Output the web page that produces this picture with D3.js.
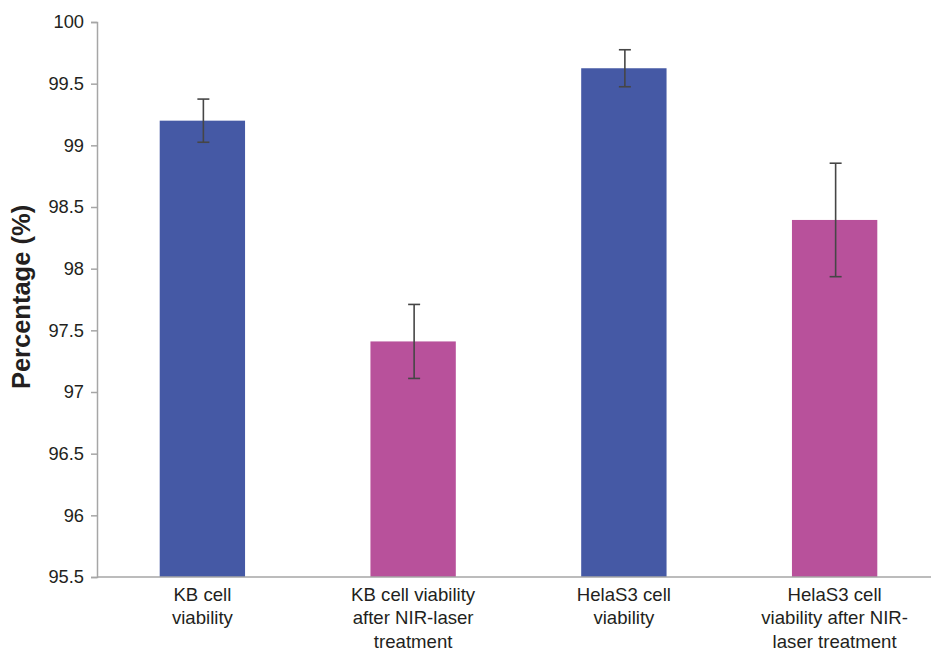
<!DOCTYPE html>
<html>
<head>
<meta charset="utf-8">
<script src="https://cdn.jsdelivr.net/npm/d3@7"></script>
<style>
  html, body { margin: 0; padding: 0; background: #fff; }
  svg { display: block; }
  text { font-family: "Liberation Sans", Arial, sans-serif; fill: #231f20; }
</style>
</head>
<body>
<svg id="chart" width="931" height="650"></svg>
<script>
// Cell viability values with their error (± half-range)
const categories = [
  ["KB cell", "viability"],
  ["KB cell viability", "after NIR-laser", "treatment"],
  ["HelaS3 cell", "viability"],
  ["HelaS3 cell", "viability after NIR-", "laser treatment"]
];
const values = [99.2, 97.41, 99.625, 98.395];
const errors = [0.175, 0.30, 0.15, 0.46];
const barColors = ["#4559a5", "#b8519b", "#4559a5", "#b8519b"];
const yTicks = [95.5, 96, 96.5, 97, 97.5, 98, 98.5, 99, 99.5, 100];
const yLabel = "Percentage (%)";

const svg = d3.select("#chart");
const plotLeft = 97, plotRight = 940, plotTop = 22, plotBottom = 577;

const x = d3.scaleBand().domain(d3.range(categories.length)).range([plotLeft, plotRight]).padding(0);
const y = d3.scaleLinear().domain([95.5, 100]).range([plotBottom, plotTop]);
const barW = x.bandwidth() * 0.405;

// Bars
svg.append("g").selectAll("rect")
  .data(values)
  .join("rect")
  .attr("x", (d, i) => x(i) + x.bandwidth() / 2 - barW / 2)
  .attr("y", d => y(d))
  .attr("width", barW)
  .attr("height", d => y(95.5) - y(d))
  .attr("fill", (d, i) => barColors[i]);

// Error bars
const eg = svg.append("g").attr("stroke", "#464646").attr("stroke-width", 1.6);
values.forEach((v, i) => {
  const cx = x(i) + x.bandwidth() / 2 + 1;
  const y1 = y(v + errors[i]), y2 = y(v - errors[i]);
  eg.append("line").attr("x1", cx).attr("x2", cx).attr("y1", y1).attr("y2", y2);
  eg.append("line").attr("x1", cx - 6).attr("x2", cx + 6).attr("y1", y1).attr("y2", y1);
  eg.append("line").attr("x1", cx - 6).attr("x2", cx + 6).attr("y1", y2).attr("y2", y2);
});

// Y axis
const yAxis = svg.append("g")
  .attr("transform", `translate(${plotLeft},0)`)
  .call(d3.axisLeft(y).tickValues(yTicks).tickSize(6).tickPadding(7).tickFormat(d3.format("")));
yAxis.select(".domain").attr("stroke", "#a6a6a6").attr("stroke-width", 1.5);
yAxis.selectAll(".tick line").attr("stroke", "#a6a6a6").attr("stroke-width", 1.5);
yAxis.selectAll(".tick text")
  .style("font-family", "'Liberation Sans', Arial, sans-serif")
  .style("font-size", "18.3px").attr("fill", "#231f20");

// X axis baseline
svg.append("line")
  .attr("x1", plotLeft).attr("x2", 931)
  .attr("y1", plotBottom).attr("y2", plotBottom)
  .attr("stroke", "#a6a6a6").attr("stroke-width", 1.5);

// Category labels
categories.forEach((lines, i) => {
  const t = svg.append("text")
    .attr("text-anchor", "middle")
    .attr("font-size", "18.6px");
  lines.forEach((ln, j) => {
    t.append("tspan")
      .attr("x", x(i) + x.bandwidth() / 2)
      .attr("y", 600.5 + j * 23.5)
      .text(ln);
  });
});

// Y axis title
svg.append("text")
  .attr("transform", `translate(30,297) rotate(-90)`)
  .attr("text-anchor", "middle")
  .attr("font-size", "25.5px")
  .attr("font-weight", "bold")
  .text(yLabel);
</script>
</body>
</html>
